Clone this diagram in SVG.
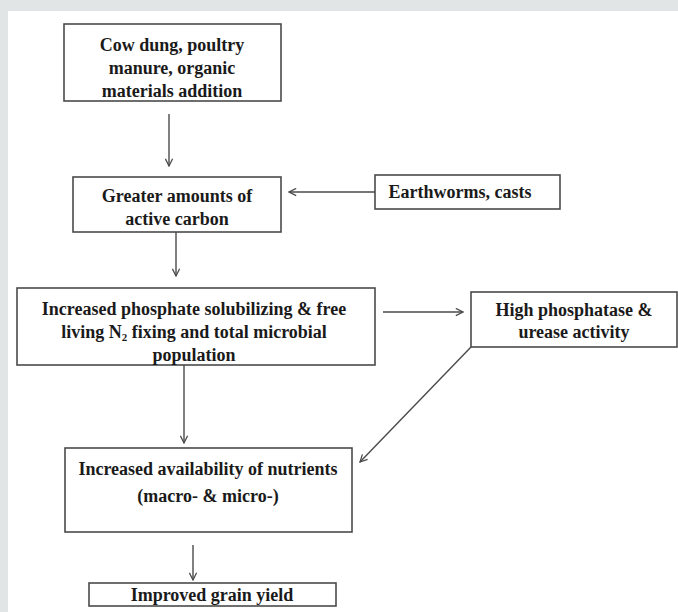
<svg xmlns="http://www.w3.org/2000/svg" width="678" height="612" viewBox="0 0 678 612">
<style>
.box{fill:#fff;stroke:#4a4a4a;stroke-width:1.6}
.t{font-family:'Liberation Serif','Times New Roman','DejaVu Serif',serif;font-weight:700;font-size:18px;fill:#1a1a1a;text-anchor:middle}
.c{fill:none;stroke:#4a4a4a;stroke-width:1.4}
</style>
<defs>
<marker id="ah" viewBox="0 0 10 10" refX="9" refY="5" markerWidth="9" markerHeight="9" markerUnits="userSpaceOnUse" orient="auto">
<path d="M1,1 L9,5 L1,9" fill="none" stroke="#4a4a4a" stroke-width="1.4"/>
</marker>
</defs>
<rect x="0" y="0" width="678" height="612" fill="#e1e5e6"/>
<rect x="8" y="11" width="670" height="601" fill="#fff"/>
<g id="connectors">
<line class="c" x1="169" y1="114" x2="169" y2="166" marker-end="url(#ah)"/>
<line class="c" x1="375" y1="192" x2="289" y2="192" marker-end="url(#ah)"/>
<line class="c" x1="176" y1="232" x2="176" y2="276" marker-end="url(#ah)"/>
<line class="c" x1="383" y1="312" x2="463" y2="312" marker-end="url(#ah)"/>
<line class="c" x1="471" y1="347" x2="360" y2="462" marker-end="url(#ah)"/>
<line class="c" x1="184" y1="365" x2="184" y2="443" marker-end="url(#ah)"/>
<line class="c" x1="193" y1="545" x2="193" y2="580" marker-end="url(#ah)"/>
</g>
<g id="n1">
<rect class="box" x="64" y="24" width="217" height="77"/>
<text class="t" x="172" y="51">Cow dung, poultry</text>
<text class="t" x="172" y="74">manure, organic</text>
<text class="t" x="172" y="97">materials addition</text>
</g>
<g id="n2">
<rect class="box" x="73" y="177" width="208" height="55"/>
<text class="t" x="177" y="202">Greater amounts of</text>
<text class="t" x="177" y="225">active carbon</text>
</g>
<g id="n3">
<rect class="box" x="375" y="175" width="185" height="34"/>
<text class="t" x="460" y="198">Earthworms, casts</text>
</g>
<g id="n4">
<rect class="box" x="17" y="288" width="358" height="77"/>
<text class="t" x="194" y="315">Increased phosphate solubilizing &amp; free</text>
<text class="t" x="194" y="338">living N<tspan font-size="11" dy="3">2</tspan><tspan dy="-3"> fixing and total microbial</tspan></text>
<text class="t" x="194" y="361">population</text>
</g>
<g id="n5">
<rect class="box" x="471" y="292" width="206" height="55"/>
<text class="t" x="574" y="316">High phosphatase &amp;</text>
<text class="t" x="574" y="338">urease activity</text>
</g>
<g id="n6">
<rect class="box" x="65" y="448" width="287" height="84"/>
<text class="t" x="208" y="475">Increased availability of nutrients</text>
<text class="t" x="208" y="502">(macro- &amp; micro-)</text>
</g>
<g id="n7">
<rect class="box" x="89" y="583" width="247" height="23"/>
<text class="t" x="212" y="601">Improved grain yield</text>
</g>
</svg>
